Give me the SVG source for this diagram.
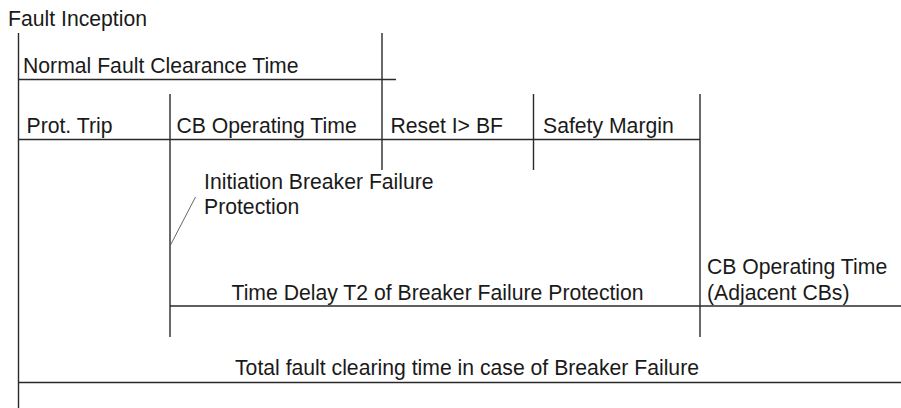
<svg xmlns="http://www.w3.org/2000/svg" width="901" height="408" viewBox="0 0 901 408">
<style>
text { font-family: "Liberation Sans", Arial, sans-serif; font-size: 21.2px; fill: #1a1a1a; }
.ln { stroke: #2a2a2a; stroke-width: 1.4; fill: none; }
.thin { stroke: #555; stroke-width: 0.9; fill: none; }
</style>
<rect width="901" height="408" fill="#fff"/>
<g id="connectors">
  <line class="ln" x1="18.5" y1="33" x2="18.5" y2="408"/>
  <line class="ln" x1="18.5" y1="79.5" x2="396" y2="79.5"/>
  <line class="ln" x1="382" y1="33" x2="382" y2="170"/>
  <line class="ln" x1="170" y1="94" x2="170" y2="337"/>
  <line class="ln" x1="18.5" y1="139.5" x2="700" y2="139.5"/>
  <line class="ln" x1="533.5" y1="94" x2="533.5" y2="170"/>
  <line class="ln" x1="700" y1="94" x2="700" y2="337"/>
  <line class="ln" x1="170" y1="306" x2="901" y2="306"/>
  <line class="ln" x1="18.5" y1="382.5" x2="901" y2="382.5"/>
  <line class="thin" x1="170.5" y1="245" x2="195.5" y2="197"/>
</g>
<g id="fault-inception"><text x="8" y="25.5">Fault Inception</text></g>
<g id="normal-clearance"><text x="23" y="72.7">Normal Fault Clearance Time</text></g>
<g id="prot-trip"><text x="26.5" y="133">Prot. Trip</text></g>
<g id="cb-operating"><text x="176.5" y="133">CB Operating Time</text></g>
<g id="reset"><text x="390.5" y="133">Reset I&gt; BF</text></g>
<g id="safety-margin"><text x="543" y="133">Safety Margin</text></g>
<g id="initiation"><text x="204" y="188.5">Initiation Breaker Failure</text><text x="204" y="214">Protection</text></g>
<g id="time-delay"><text x="231.5" y="299.5">Time Delay T2 of Breaker Failure Protection</text></g>
<g id="cb-adjacent"><text x="707" y="274.3">CB Operating Time</text><text x="707" y="299.5">(Adjacent CBs)</text></g>
<g id="total"><text x="235" y="374.5">Total fault clearing time in case of Breaker Failure</text></g>
</svg>
